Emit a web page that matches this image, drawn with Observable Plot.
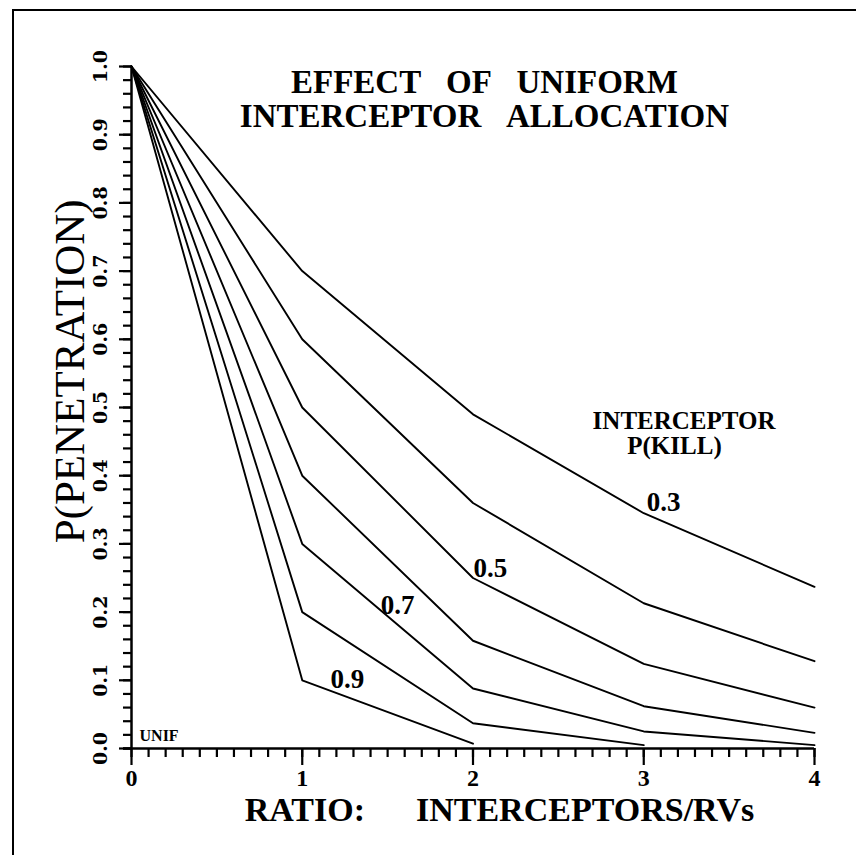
<!DOCTYPE html>
<html>
<head>
<meta charset="utf-8">
<script src="https://cdn.jsdelivr.net/npm/d3@7"></script>
<script src="https://cdn.jsdelivr.net/npm/@observablehq/plot@0.6"></script>
<style>
  html, body { margin: 0; padding: 0; background: #fff; }
  #wrap { position: relative; width: 856px; height: 855px; overflow: hidden; }
  #border { position: absolute; left: 12px; top: 9px; width: 850px; height: 850px;
            border-left: 2.5px solid #000; border-top: 2.5px solid #000; pointer-events: none; }
</style>
</head>
<body>
<div id="wrap"><div id="border"></div></div>
<script>
// ---- data ----
const ratio = [0, 1, 2, 3, 4];
const pkLabels = ["0.3", "0.4", "0.5", "0.6", "0.7", "0.8", "0.9"];
const pk03 = [1.0, 0.70, 0.49, 0.345, 0.237];
const pk04 = [1.0, 0.60, 0.36, 0.213, 0.128];
const pk05 = [1.0, 0.50, 0.25, 0.124, 0.060];
const pk06 = [1.0, 0.40, 0.158, 0.062, 0.023];
const pk07 = [1.0, 0.30, 0.088, 0.025, 0.005];
const pk08 = [1.0, 0.20, 0.037, 0.005];
const pk09 = [1.0, 0.10, 0.007];

const xMajor = [0, 1, 2, 3, 4];
const xTickLabels = ["0", "1", "2", "3", "4"];
const yMajor = [0, 0.1, 0.2, 0.3, 0.4, 0.5, 0.6, 0.7, 0.8, 0.9, 1.0];
const yTickLabels = ["0.0","0.1","0.2","0.3","0.4","0.5","0.6","0.7","0.8","0.9","1.0"];
const xMinor = d3.range(0, 41).map(i => i / 10);
const yMinor = d3.range(0, 51).map(i => i / 50);

const title = "EFFECT\u00A0\u00A0\u00A0OF\u00A0\u00A0\u00A0UNIFORM\nINTERCEPTOR\u00A0\u00A0\u00A0ALLOCATION";
const xTitle = "RATIO:\u00A0\u00A0\u00A0\u00A0\u00A0\u00A0INTERCEPTORS/RVs";
const yTitle = "P(PENETRATION)";

// curve labels (annotation positions in data units)
const curveLabels = [
  {text: "0.3", x: 3.116, y: 0.361},
  {text: "0.5", x: 2.102, y: 0.264},
  {text: "0.7", x: 1.558, y: 0.210},
  {text: "0.9", x: 1.265, y: 0.101}
];
const legendLabels = [
  {text: "INTERCEPTOR", x: 3.236, y: 0.480},
  {text: "P(KILL)", x: 3.18, y: 0.443}
];

const seriesValues = [pk03, pk04, pk05, pk06, pk07, pk08, pk09];
const rows = seriesValues.flatMap((vals, s) => vals.map((v, i) => ({ratio: ratio[i], p: v, pk: pkLabels[s]})));

const serif = "'Liberation Serif', 'Times New Roman', serif";
const serifWide = "'DejaVu Serif', serif";

// frame geometry
const W = 856, H = 855, mL = 131, mR = 42, mT = 66, mB = 107;
const xDomain = [0, 4], yDomain = [0, 1];
// data units per pixel (for tick lengths drawn outside the frame)
const xPerPx = (xDomain[1] - xDomain[0]) / (W - mL - mR);
const yPerPx = (yDomain[1] - yDomain[0]) / (H - mT - mB);

const chart = Plot.plot({
  width: W,
  height: H,
  marginLeft: mL,
  marginRight: mR,
  marginTop: mT,
  marginBottom: mB,
  style: {background: "#fff", color: "#000"},
  x: {domain: xDomain, axis: null, label: null},
  y: {domain: yDomain, axis: null, label: null},
  marks: [
    // x ticks (pointing down)
    Plot.ruleX(xMinor, {x: d => d, y1: 0, y2: -9 * yPerPx, stroke: "#000", strokeWidth: 2.2}),
    Plot.ruleX(xMajor, {x: d => d, y1: 0, y2: -17 * yPerPx, stroke: "#000", strokeWidth: 2.2}),
    // y ticks (pointing left)
    Plot.ruleY(yMinor, {y: d => d, x1: 0, x2: -8 * xPerPx, stroke: "#000", strokeWidth: 2.2}),
    Plot.ruleY(yMajor, {y: d => d, x1: 0, x2: -12 * xPerPx, stroke: "#000", strokeWidth: 2.2}),
    // axis lines
    Plot.ruleX([0], {strokeWidth: 2.5, stroke: "#000"}),
    Plot.ruleY([0], {strokeWidth: 2.5, stroke: "#000", x1: -8 * xPerPx, x2: 4}),
    // curves
    Plot.line(rows, {x: "ratio", y: "p", z: "pk", stroke: "#000", strokeWidth: 1.9}),
    // x tick labels
    Plot.text(xMajor, {x: d => d, text: (d, i) => xTickLabels[i], frameAnchor: "bottom", dy: 20,
      textAnchor: "middle", lineAnchor: "top",
      fontSize: 24, fontFamily: serif, fontWeight: "bold", fill: "#000"}),
    // y tick labels (rotated)
    Plot.text(yMajor, {y: d => d, text: (d, i) => yTickLabels[i], frameAnchor: "left", dx: -31,
      rotate: -90, textAnchor: "middle", lineAnchor: "middle",
      fontSize: 19, fontFamily: serifWide, fontWeight: "bold", fill: "#000"}),
    // curve labels
    Plot.text(curveLabels, {x: "x", y: "y", text: "text", textAnchor: "middle", lineAnchor: "middle",
      fontSize: 27, fontFamily: serif, fontWeight: "bold", fill: "#000"}),
    Plot.text(legendLabels, {x: "x", y: "y", text: "text", textAnchor: "middle", lineAnchor: "middle",
      fontSize: 25, fontFamily: serif, fontWeight: "bold", fill: "#000"}),
    Plot.text(["UNIF"], {x: 0.047, y: 0.019, text: d => d, textAnchor: "start", lineAnchor: "middle",
      fontSize: 16, fontFamily: serif, fontWeight: "bold", fill: "#000"}),
    // title
    Plot.text([title], {x: 2.067, frameAnchor: "top", dy: 2, text: d => d, textAnchor: "middle",
      lineAnchor: "top", lineHeight: 1.03, fontSize: 33, fontFamily: serif, fontWeight: "bold", fill: "#000"}),
    // axis titles
    Plot.text([xTitle], {x: 2.155, frameAnchor: "bottom", dy: 72, text: d => d, textAnchor: "middle",
      lineAnchor: "bottom", fontSize: 34, fontFamily: serif, fontWeight: "bold", fill: "#000"}),
    Plot.text([yTitle], {y: 0.553, frameAnchor: "left", dx: -61, text: d => d, rotate: -90,
      textAnchor: "middle", lineAnchor: "middle", fontSize: 43, fontFamily: serif, fill: "#000"})
  ]
});
document.getElementById("wrap").prepend(chart);
</script>
</body>
</html>
